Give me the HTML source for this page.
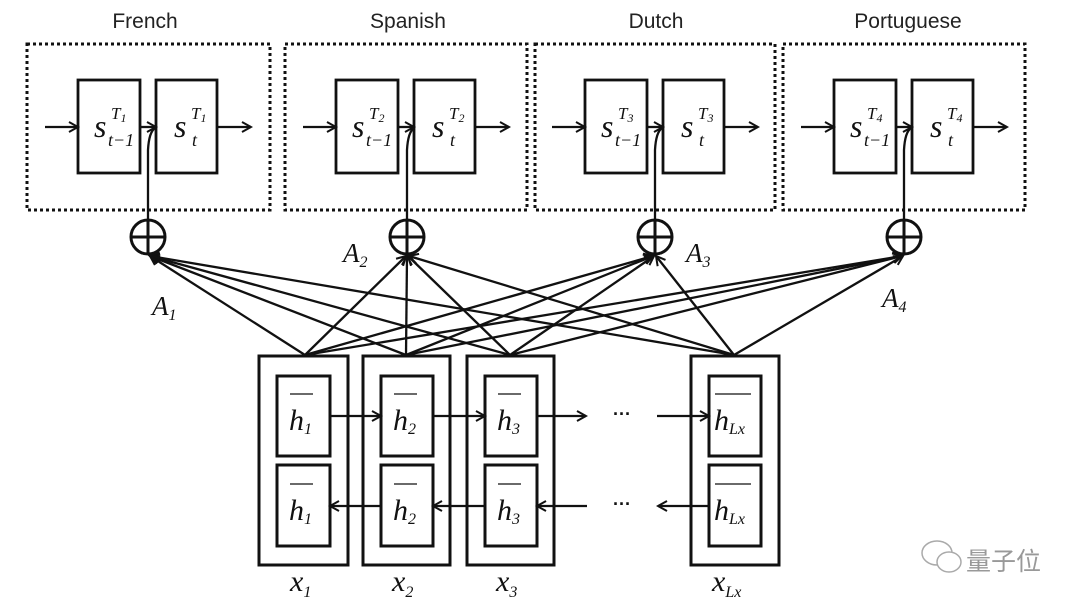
<!DOCTYPE html>
<html><head><meta charset="utf-8"><style>
html,body{margin:0;padding:0;background:#fff;}
svg{display:block}
.t{font-family:"Liberation Serif",serif;font-style:italic;fill:#111}
.h{font-family:"Liberation Sans",sans-serif;font-size:21px;fill:#222}
</style></head><body>
<svg width="1080" height="609" viewBox="0 0 1080 609" xmlns="http://www.w3.org/2000/svg">
<defs>
<marker id="a" markerWidth="12" markerHeight="12" refX="10" refY="6" orient="auto" markerUnits="userSpaceOnUse">
<path d="M1,1 L10,6 L1,11" fill="none" stroke="#111" stroke-width="2"/></marker>
</defs>
<g stroke="#111" fill="none">
<rect x="27" y="44" width="243" height="166" stroke-width="3" stroke-dasharray="3,3"/>
<rect x="285" y="44" width="242" height="166" stroke-width="3" stroke-dasharray="3,3"/>
<rect x="535" y="44" width="240" height="166" stroke-width="3" stroke-dasharray="3,3"/>
<rect x="783" y="44" width="242" height="166" stroke-width="3" stroke-dasharray="3,3"/>
<g stroke-width="2.8">
<rect x="78" y="80" width="62" height="93"/><rect x="156" y="80" width="61" height="93"/>
<rect x="336" y="80" width="62" height="93"/><rect x="414" y="80" width="61" height="93"/>
<rect x="585" y="80" width="62" height="93"/><rect x="663" y="80" width="61" height="93"/>
<rect x="834" y="80" width="62" height="93"/><rect x="912" y="80" width="61" height="93"/>
</g>
<g stroke-width="2.3">
<line x1="45" y1="127" x2="78" y2="127" marker-end="url(#a)"/><line x1="140" y1="127" x2="156" y2="127" marker-end="url(#a)"/><line x1="217" y1="127" x2="251" y2="127" marker-end="url(#a)"/>
<line x1="303" y1="127" x2="336" y2="127" marker-end="url(#a)"/><line x1="398" y1="127" x2="414" y2="127" marker-end="url(#a)"/><line x1="475" y1="127" x2="509" y2="127" marker-end="url(#a)"/>
<line x1="552" y1="127" x2="585" y2="127" marker-end="url(#a)"/><line x1="647" y1="127" x2="663" y2="127" marker-end="url(#a)"/><line x1="724" y1="127" x2="758" y2="127" marker-end="url(#a)"/>
<line x1="801" y1="127" x2="834" y2="127" marker-end="url(#a)"/><line x1="896" y1="127" x2="912" y2="127" marker-end="url(#a)"/><line x1="973" y1="127" x2="1007" y2="127" marker-end="url(#a)"/>
<path d="M148,220 L148,150 Q149,132 155,128"/>
<path d="M407,220 L407,150 Q408,132 414,128"/>
<path d="M655,220 L655,150 Q656,132 662,128"/>
<path d="M904,220 L904,150 Q905,132 911,128"/>
</g>
<g stroke-width="3">
<circle cx="148" cy="237" r="17"/><line x1="131" y1="237" x2="165" y2="237"/><line x1="148" y1="220" x2="148" y2="254"/>
<circle cx="407" cy="237" r="17"/><line x1="390" y1="237" x2="424" y2="237"/><line x1="407" y1="220" x2="407" y2="254"/>
<circle cx="655" cy="237" r="17"/><line x1="638" y1="237" x2="672" y2="237"/><line x1="655" y1="220" x2="655" y2="254"/>
<circle cx="904" cy="237" r="17"/><line x1="887" y1="237" x2="921" y2="237"/><line x1="904" y1="220" x2="904" y2="254"/>
</g>
<g stroke-width="2.3">
<line x1="305" y1="355" x2="150" y2="256" marker-end="url(#a)"/><line x1="305" y1="355" x2="406" y2="256" marker-end="url(#a)"/><line x1="305" y1="355" x2="653" y2="256" marker-end="url(#a)"/><line x1="305" y1="355" x2="902" y2="256" marker-end="url(#a)"/>
<line x1="406" y1="355" x2="150" y2="256" marker-end="url(#a)"/><line x1="406" y1="355" x2="407" y2="256" marker-end="url(#a)"/><line x1="406" y1="355" x2="653" y2="256" marker-end="url(#a)"/><line x1="406" y1="355" x2="902" y2="256" marker-end="url(#a)"/>
<line x1="510" y1="355" x2="150" y2="256" marker-end="url(#a)"/><line x1="510" y1="355" x2="408" y2="256" marker-end="url(#a)"/><line x1="510" y1="355" x2="654" y2="256" marker-end="url(#a)"/><line x1="510" y1="355" x2="902" y2="256" marker-end="url(#a)"/>
<line x1="734" y1="355" x2="150" y2="256" marker-end="url(#a)"/><line x1="734" y1="355" x2="409" y2="256" marker-end="url(#a)"/><line x1="734" y1="355" x2="656" y2="256" marker-end="url(#a)"/><line x1="734" y1="355" x2="903" y2="256" marker-end="url(#a)"/>
</g>
<g stroke-width="3">
<rect x="259" y="356" width="89" height="209"/><rect x="363" y="356" width="87" height="209"/><rect x="467" y="356" width="87" height="209"/><rect x="691" y="356" width="88" height="209"/>
<rect x="277" y="376" width="53" height="80"/><rect x="277" y="465" width="53" height="81"/>
<rect x="381" y="376" width="52" height="80"/><rect x="381" y="465" width="52" height="81"/>
<rect x="485" y="376" width="52" height="80"/><rect x="485" y="465" width="52" height="81"/>
<rect x="709" y="376" width="52" height="80"/><rect x="709" y="465" width="52" height="81"/>
</g>
<g stroke-width="2.3">
<line x1="330" y1="416" x2="381" y2="416" marker-end="url(#a)"/><line x1="433" y1="416" x2="485" y2="416" marker-end="url(#a)"/><line x1="537" y1="416" x2="586" y2="416" marker-end="url(#a)"/><line x1="657" y1="416" x2="709" y2="416" marker-end="url(#a)"/>
<line x1="381" y1="506" x2="330" y2="506" marker-end="url(#a)"/><line x1="485" y1="506" x2="433" y2="506" marker-end="url(#a)"/><line x1="587" y1="506" x2="537" y2="506" marker-end="url(#a)"/><line x1="709" y1="506" x2="658" y2="506" marker-end="url(#a)"/>
</g>
<g stroke-width="1.3">
<line x1="290" y1="394" x2="313" y2="394"/><line x1="394" y1="394" x2="417" y2="394"/><line x1="498" y1="394" x2="521" y2="394"/><line x1="715" y1="394" x2="751" y2="394"/>
<line x1="290" y1="484" x2="313" y2="484"/><line x1="394" y1="484" x2="417" y2="484"/><line x1="498" y1="484" x2="521" y2="484"/><line x1="715" y1="484" x2="751" y2="484"/>
</g>
</g>
<text class="h" x="145" y="28" text-anchor="middle">French</text>
<text class="h" x="408" y="28" text-anchor="middle">Spanish</text>
<text class="h" x="656" y="28" text-anchor="middle">Dutch</text>
<text class="h" x="908" y="28" text-anchor="middle">Portuguese</text>
<g class="t">
<text x="94" y="137" font-size="32">s</text><text x="111" y="119" font-size="17">T<tspan font-size="12" dy="3">1</tspan></text><text x="108" y="146" font-size="18">t−1</text>
<text x="174" y="137" font-size="32">s</text><text x="191" y="119" font-size="17">T<tspan font-size="12" dy="3">1</tspan></text><text x="192" y="146" font-size="18">t</text>
<text x="352" y="137" font-size="32">s</text><text x="369" y="119" font-size="17">T<tspan font-size="12" dy="3">2</tspan></text><text x="366" y="146" font-size="18">t−1</text>
<text x="432" y="137" font-size="32">s</text><text x="449" y="119" font-size="17">T<tspan font-size="12" dy="3">2</tspan></text><text x="450" y="146" font-size="18">t</text>
<text x="601" y="137" font-size="32">s</text><text x="618" y="119" font-size="17">T<tspan font-size="12" dy="3">3</tspan></text><text x="615" y="146" font-size="18">t−1</text>
<text x="681" y="137" font-size="32">s</text><text x="698" y="119" font-size="17">T<tspan font-size="12" dy="3">3</tspan></text><text x="699" y="146" font-size="18">t</text>
<text x="850" y="137" font-size="32">s</text><text x="867" y="119" font-size="17">T<tspan font-size="12" dy="3">4</tspan></text><text x="864" y="146" font-size="18">t−1</text>
<text x="930" y="137" font-size="32">s</text><text x="947" y="119" font-size="17">T<tspan font-size="12" dy="3">4</tspan></text><text x="948" y="146" font-size="18">t</text>
<text x="152" y="315" font-size="27">A<tspan font-size="16" dy="5">1</tspan></text>
<text x="343" y="262" font-size="27">A<tspan font-size="16" dy="5">2</tspan></text>
<text x="686" y="262" font-size="27">A<tspan font-size="16" dy="5">3</tspan></text>
<text x="882" y="307" font-size="27">A<tspan font-size="16" dy="5">4</tspan></text>
<text x="289" y="430" font-size="30">h<tspan font-size="16" dy="4">1</tspan></text>
<text x="393" y="430" font-size="30">h<tspan font-size="16" dy="4">2</tspan></text>
<text x="497" y="430" font-size="30">h<tspan font-size="16" dy="4">3</tspan></text>
<text x="714" y="430" font-size="30">h<tspan font-size="16" dy="4">Lx</tspan></text>
<text x="289" y="520" font-size="30">h<tspan font-size="16" dy="4">1</tspan></text>
<text x="393" y="520" font-size="30">h<tspan font-size="16" dy="4">2</tspan></text>
<text x="497" y="520" font-size="30">h<tspan font-size="16" dy="4">3</tspan></text>
<text x="714" y="520" font-size="30">h<tspan font-size="16" dy="4">Lx</tspan></text>
<text x="290" y="591" font-size="30">x<tspan font-size="16" dy="6">1</tspan></text>
<text x="392" y="591" font-size="30">x<tspan font-size="16" dy="6">2</tspan></text>
<text x="496" y="591" font-size="30">x<tspan font-size="16" dy="6">3</tspan></text>
<text x="712" y="591" font-size="30">x<tspan font-size="16" dy="6">Lx</tspan></text>
</g>
<text x="622" y="420" font-family="Liberation Sans,sans-serif" font-size="18" font-weight="bold" text-anchor="middle" fill="#111">···</text>
<text x="622" y="510" font-family="Liberation Sans,sans-serif" font-size="18" font-weight="bold" text-anchor="middle" fill="#111">···</text>
<g stroke="#aaa" fill="#fff" stroke-width="1.5">
<ellipse cx="937" cy="553" rx="15" ry="12"/><ellipse cx="949" cy="562" rx="12" ry="10"/>
</g>
<text x="966" y="570" font-family="'Noto Sans CJK SC',sans-serif" font-size="25" fill="#999">量子位</text>
</svg>
</body></html>
